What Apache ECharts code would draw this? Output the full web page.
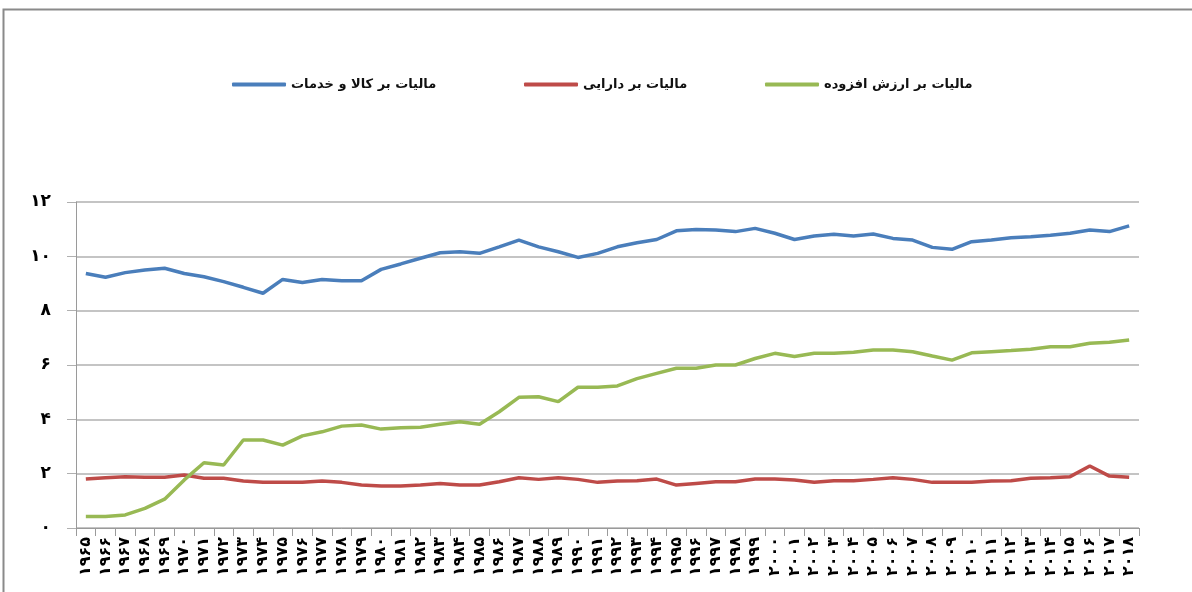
<!DOCTYPE html>
<html><head><meta charset="utf-8">
<script src="https://cdn.jsdelivr.net/npm/echarts@6/dist/echarts.min.js"></script>
<style>html,body{margin:0;padding:0;background:#fff}#c{width:1192px;height:592px}</style>
</head><body><div id="c"></div>
<script>
const years = [1965,1966,1967,1968,1969,1970,1971,1972,1973,1974,1975,1976,1977,1978,1979,1980,1981,1982,1983,1984,1985,1986,1987,1988,1989,1990,1991,1992,1993,1994,1995,1996,1997,1998,1999,2000,2001,2002,2003,2004,2005,2006,2007,2008,2009,2010,2011,2012,2013,2014,2015,2016,2017,2018];
const seriesNames = ['مالیات بر کالا و خدمات','مالیات بر دارایی','مالیات بر ارزش افزوده'];
const goodsServices = [9.37,9.23,9.40,9.50,9.56,9.37,9.25,9.07,8.86,8.64,9.15,9.04,9.15,9.10,9.10,9.52,9.72,9.93,10.13,10.17,10.11,10.35,10.60,10.35,10.17,9.96,10.11,10.35,10.50,10.62,10.94,10.99,10.97,10.91,11.03,10.85,10.62,10.75,10.81,10.75,10.82,10.66,10.60,10.33,10.26,10.54,10.60,10.68,10.72,10.78,10.85,10.97,10.91,11.12];
const property = [1.80,1.85,1.89,1.87,1.87,1.95,1.83,1.83,1.73,1.68,1.68,1.68,1.73,1.68,1.58,1.55,1.55,1.58,1.64,1.58,1.58,1.70,1.85,1.79,1.85,1.79,1.68,1.73,1.74,1.80,1.58,1.64,1.70,1.70,1.80,1.80,1.77,1.68,1.74,1.74,1.79,1.85,1.79,1.68,1.68,1.68,1.73,1.74,1.83,1.85,1.89,2.28,1.91,1.87];
const valueAdded = [0.42,0.42,0.48,0.72,1.06,1.77,2.40,2.32,3.24,3.24,3.05,3.39,3.54,3.75,3.79,3.64,3.69,3.71,3.82,3.91,3.82,4.28,4.81,4.83,4.65,5.18,5.18,5.23,5.50,5.69,5.88,5.88,6.00,6.00,6.24,6.43,6.31,6.43,6.43,6.47,6.55,6.55,6.49,6.33,6.18,6.45,6.49,6.53,6.58,6.67,6.67,6.80,6.84,6.92];
const yTicks = [0,2,4,6,8,10,12];
const colors = ['#4a7ebb','#be4b48','#98b954'];

const faDigits = '۰۱۲۳۴۵۶۷۸۹';
function toFa(v){ return String(v).replace(/[0-9]/g, d => faDigits[+d]); }

const chart = echarts.init(document.getElementById('c'));
const legendPos = [232, 524, 765];
const FONT = 'DejaVu Sans, Noto Sans, sans-serif';
chart.setOption({
  animation: false,
  backgroundColor: '#fff',
  graphic: [{type:'polyline', shape:{points:[[3.5,600],[3.5,9.5],[1200,9.5]]}, style:{fill:'none', stroke:'#8a8a8a', lineWidth:2}, silent:true}],
  legend: seriesNames.map((n,i)=>({
    data:[n], left: legendPos[i], top: 78, padding: 0, itemWidth: 54, itemHeight: 4, icon: 'roundRect', itemGap: 4,
    textStyle:{fontSize:13, fontWeight:'bold', color:'#111', fontFamily: FONT}
  })),
  grid: {left: 76, right: 53, top: 202, bottom: 64, containLabel: false},
  xAxis: {
    type: 'category', data: years, boundaryGap: true,
    axisLine: {lineStyle:{color:'#9a9a9a', width:1}},
    axisTick: {show:true, alignWithLabel:false, length:8, lineStyle:{color:'#9a9a9a'}},
    axisLabel: {interval:0, rotate:90, color:'#000', fontSize:16, fontWeight:'bold', fontFamily: FONT, margin:9, formatter: v => toFa(v)}
  },
  yAxis: {
    type: 'value', min: 0, max: 12, interval: 2,
    axisLine: {show:true, lineStyle:{color:'#9a9a9a'}},
    axisTick: {show:true, length:9, lineStyle:{color:'#b0b0b0'}},
    splitLine: {lineStyle:{color:'#b0b0b0', width:1.5}},
    axisLabel: {color:'#000', fontSize:17, fontWeight:'bold', fontFamily: FONT, margin:25, formatter: v => yTicks.includes(v) ? toFa(v) : ''}
  },
  series: [goodsServices, property, valueAdded].map((d,i)=>({
    name: seriesNames[i], type: 'line', data: d, symbol: 'none',
    lineStyle: {color: colors[i], width: 3.5}, itemStyle: {color: colors[i]}
  }))
});
</script></body></html>
